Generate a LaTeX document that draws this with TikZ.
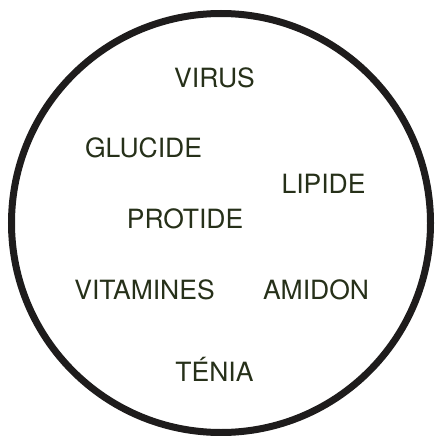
\documentclass[tikz,border=0pt]{standalone}
\usepackage{fontspec}
\setmainfont{TeX Gyre Heros}
\usepackage{xcolor}
\definecolor{inkDark}  {HTML}{263019}
\definecolor{rimBlack} {HTML}{1E1C1C}
\usetikzlibrary{positioning}
\tikzset{
    word/.style={anchor=base, inner sep=0pt, text=inkDark,
                 font=\fontsize{26.5}{29}\selectfont},
    rim/.style={draw=rimBlack, line width=7pt},
}

\begin{document}
\begin{tikzpicture}[x=1pt, y=-1pt]
    \useasboundingbox (0,0) rectangle (435,436);
    \draw[rim] (221,223) circle[radius=209.5];
    \node[word] (virus) at (214.5,88) {VIRUS};
    \node[word] (glucide) at (143.5,157) {GLUCIDE};
    \node[word] (lipide) at (323.5,193) {LIPIDE};
    \node[word] (protide) at (185,228) {PROTIDE};
    \node[word] (vitamines) at (144.5,299) {VITAMINES};
    \node[word] (amidon) at (316,299) {AMIDON};
    \node[word] (tenia) at (214.5,381) {TÉNIA};
\end{tikzpicture}
\end{document}
